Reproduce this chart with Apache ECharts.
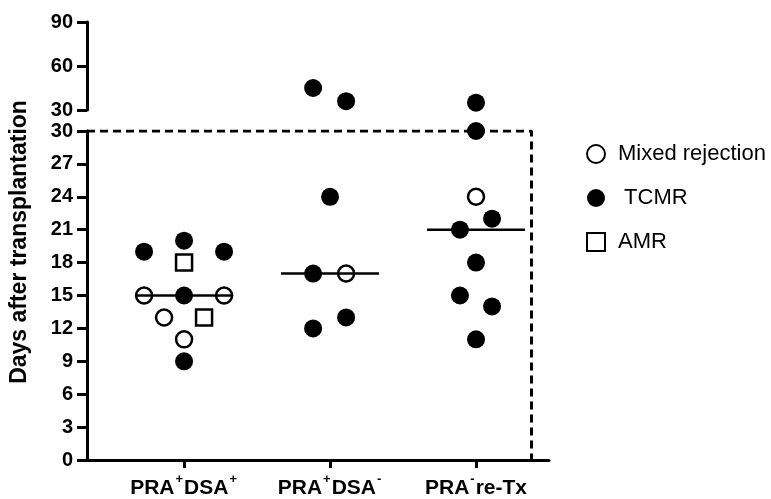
<!DOCTYPE html>
<html>
<head>
<meta charset="utf-8">
<script src="https://cdn.jsdelivr.net/npm/echarts@6/dist/echarts.min.js"></script>
<style>
  html, body { margin: 0; padding: 0; background: #fff; }
  #chart { width: 771px; height: 499px; }
</style>
</head>
<body>
<div id="chart"></div>
<script>
// Group tick labels (rich text for the superscript +/-)
const groupLabels = [
  '{b|PRA}{s|+}{b|DSA}{s|+}',
  '{b|PRA}{s|+}{b|DSA}{s|-}',
  '{b|PRA}{s|-}{b|re-Tx}'
];
const groupPos = [1, 2, 3];

// Each point: [x position (group + spread within the group), days after transplantation]
const mixedPoints = [[0.726, 15], [1.274, 15], [0.863, 13], [1, 11], [2.11, 17], [3, 24]];
const tcmrPoints = [
  [0.726, 19], [1, 20], [1.274, 19], [1, 15], [1, 9],
  [1.884, 45], [2.11, 36], [2, 24], [1.884, 17], [1.884, 12], [2.11, 13],
  [3, 35], [3, 30], [3.11, 22], [2.89, 21], [3, 18], [2.89, 15], [3.11, 14], [3, 11]
];
const amrPoints = [[1, 18], [1.137, 13]];

// Median days per group
const medians = [15, 17, 21];

// Axis break: lower panel 0-30 days, upper panel 30-90 days
const breakDay = 30;
const upperTicks = { min: 30, max: 90, interval: 30 };
const lowerTicks = { min: 0, max: 30, interval: 3 };

const FONT = 'Arial, "Liberation Sans", Helvetica, sans-serif';
const xMin = 0.335, xMax = 3.5;
const boxRight = 3.38;
const medianHalf = 0.336;

const lowerOf = pts => pts.filter(p => p[1] <= breakDay);
const upperOf = pts => pts.filter(p => p[1] > breakDay);

const chart = echarts.init(document.getElementById('chart'), null, { renderer: 'canvas' });

const yAxisCommon = {
  type: 'value',
  axisLine: { show: true, lineStyle: { color: '#000', width: 3 } },
  axisTick: { show: true, length: 10, lineStyle: { color: '#000', width: 3 } },
  axisLabel: { color: '#000', fontSize: 20, fontWeight: 'bold', fontFamily: FONT, margin: 14 },
  splitLine: { show: false }
};

const hollow = { color: '#fff', borderColor: '#000', borderWidth: 2.5, opacity: 1 };
const solid = { color: '#000', opacity: 1 };

const series = [
  // dashed frame marking the 30-day boundary
  {
    type: 'line', xAxisIndex: 1, yAxisIndex: 1, silent: true, symbol: 'none', z: 1,
    data: [[xMin, breakDay], [boxRight, breakDay], [boxRight, 0]],
    lineStyle: { color: '#000', width: 3, type: [8, 5] }
  },
  {
    name: 'Mixed rejection', type: 'scatter', xAxisIndex: 1, yAxisIndex: 1, clip: false,
    symbol: 'circle', symbolSize: 16, itemStyle: hollow, z: 2,
    data: lowerOf(mixedPoints)
  },
  {
    name: 'AMR', type: 'scatter', xAxisIndex: 1, yAxisIndex: 1, clip: false,
    symbol: 'rect', symbolSize: 16, itemStyle: hollow, z: 2,
    data: lowerOf(amrPoints)
  }
];

// median bars
medians.forEach((m, i) => {
  series.push({
    type: 'line', xAxisIndex: 1, yAxisIndex: 1, silent: true, symbol: 'none', z: 3,
    data: [[groupPos[i] - medianHalf, m], [groupPos[i] + medianHalf, m]],
    lineStyle: { color: '#000', width: 2.5 }
  });
});

series.push(
  {
    name: 'TCMR', type: 'scatter', xAxisIndex: 1, yAxisIndex: 1, clip: false,
    symbol: 'circle', symbolSize: 18, itemStyle: solid, z: 4,
    data: lowerOf(tcmrPoints)
  },
  {
    name: 'TCMR', type: 'scatter', xAxisIndex: 0, yAxisIndex: 0, clip: false,
    symbol: 'circle', symbolSize: 18, itemStyle: solid, z: 4,
    data: upperOf(tcmrPoints)
  }
);

const option = {
  backgroundColor: '#fff',
  animation: false,
  textStyle: { fontFamily: FONT },
  grid: [
    { left: 87, right: 222, top: 22, height: 88 },
    { left: 87, right: 222, top: 131, bottom: 36 }
  ],
  xAxis: [
    { type: 'value', gridIndex: 0, min: xMin, max: xMax, show: false },
    {
      type: 'value', gridIndex: 1, min: xMin, max: xMax,
      axisLine: { show: true, lineStyle: { color: '#000', width: 3 } },
      axisTick: { show: true, customValues: groupPos, length: 8, lineStyle: { color: '#000', width: 3 } },
      axisLabel: {
        customValues: groupPos, margin: 13, color: '#000',
        formatter: v => groupLabels[Math.round(v) - 1] || '',
        rich: {
          b: { fontSize: 21, fontWeight: 'bold', fontFamily: FONT, color: '#000', lineHeight: 26, verticalAlign: 'bottom' },
          s: { fontSize: 13, fontWeight: 'bold', fontFamily: FONT, color: '#000', lineHeight: 15, verticalAlign: 'top', padding: [0, 1, 0, 1] }
        }
      },
      splitLine: { show: false }
    }
  ],
  yAxis: [
    Object.assign({}, yAxisCommon, { gridIndex: 0 }, upperTicks),
    Object.assign({}, yAxisCommon, { gridIndex: 1 }, lowerTicks)
  ],
  legend: {
    orient: 'vertical', left: 581, top: 138,
    itemWidth: 18, itemHeight: 18, itemGap: 22,
    data: ['Mixed rejection', 'TCMR', 'AMR'],
    formatter: n => (n === 'TCMR' ? ' ' + n : n),
    textStyle: { fontSize: 22, lineHeight: 18, color: '#000', fontFamily: FONT, padding: [0, 0, 0, 8] }
  },
  graphic: [
    {
      type: 'text', x: 20, y: 242, rotation: Math.PI / 2,
      style: {
        text: 'Days after transplantation', fill: '#000',
        font: 'bold 23px ' + FONT, align: 'center', verticalAlign: 'middle'
      }
    }
  ],
  series
};

chart.setOption(option);
</script>
</body>
</html>
